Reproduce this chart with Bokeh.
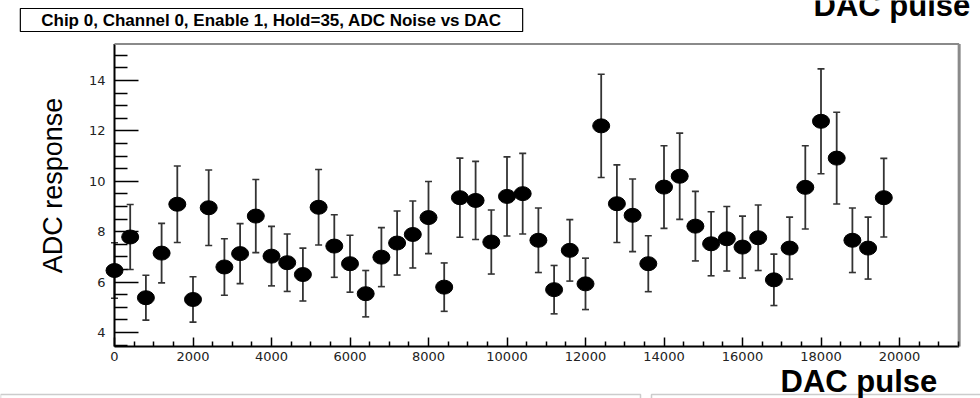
import math
from bokeh.plotting import figure
from bokeh.models import (ColumnDataSource, Whisker, TeeHead, Label, FixedTicker,
                          Range1d, BoxAnnotation)
from bokeh.embed import file_html
from bokeh.resources import INLINE

# ---- data ----
dac = [0, 400, 800, 1200, 1600, 2000, 2400, 2800, 3200, 3600,
       4000, 4400, 4800, 5200, 5600, 6000, 6400, 6800, 7200, 7600,
       8000, 8400, 8800, 9200, 9600, 10000, 10400, 10800, 11200, 11600,
       12000, 12400, 12800, 13200, 13600, 14000, 14400, 14800, 15200, 15600,
       16000, 16400, 16800, 17200, 17600, 18000, 18400, 18800, 19200, 19600]
adc = [6.46, 7.79, 5.38, 7.15, 9.09, 5.31, 8.95, 6.60, 7.13, 8.62,
       7.03, 6.77, 6.30, 8.97, 7.43, 6.73, 5.54, 6.99, 7.55, 7.89,
       8.56, 5.80, 9.35, 9.24, 7.59, 9.40, 9.51, 7.66, 5.70, 7.26,
       5.93, 12.20, 9.11, 8.65, 6.73, 9.77, 10.20, 8.22, 7.52, 7.72,
       7.39, 7.76, 6.09, 7.35, 9.76, 12.38, 10.92, 7.66, 7.35, 9.35]
err = [1.10, 1.29, 0.89, 1.18, 1.52, 0.90, 1.50, 1.12, 1.19, 1.45,
       1.18, 1.14, 1.05, 1.50, 1.24, 1.13, 0.92, 1.17, 1.27, 1.33,
       1.43, 0.96, 1.57, 1.55, 1.27, 1.57, 1.60, 1.28, 0.96, 1.22,
       1.02, 2.05, 1.54, 1.44, 1.11, 1.64, 1.71, 1.38, 1.27, 1.28,
       1.23, 1.30, 1.02, 1.23, 1.65, 2.08, 1.82, 1.28, 1.23, 1.56]

x_ticks = [0, 2000, 4000, 6000, 8000, 10000, 12000, 14000, 16000, 18000, 20000]
x_minor = [500, 1000, 1500, 2500, 3000, 3500, 4500, 5000, 5500, 6500, 7000, 7500,
           8500, 9000, 9500, 10500, 11000, 11500, 12500, 13000, 13500, 14500, 15000,
           15500, 16500, 17000, 17500, 18500, 19000, 19500, 20500, 21000, 21500]
y_ticks = [4, 6, 8, 10, 12, 14]
y_minor = [3.5, 4.5, 5, 5.5, 6.5, 7, 7.5, 8.5, 9, 9.5, 10.5, 11, 11.5,
           12.5, 13, 13.5, 14.5, 15]

title_text = "Chip 0, Channel 0, Enable 1, Hold=35, ADC Noise vs DAC"
y_label = "ADC response"
x_label = "DAC pulse"

# ---- axis frame extent (data units) ----
X_FRAME_END = 21520
Y_AXIS_BASE = 3.444
Y_FRAME_TOP = 15.45

# helpers mapping page pixels to data coordinates (annotation placement only)
def px2x(px):
    return (px - 114) / 0.03925

def px2y(py):
    return 4 + (332 - py) / 25.2

W, H = 980, 398

src = ColumnDataSource(dict(
    x=dac, y=adc,
    lo=[a - e for a, e in zip(adc, err)],
    hi=[a + e for a, e in zip(adc, err)],
))

p = figure(width=W, height=H, output_backend="svg", toolbar_location=None,
           x_range=Range1d(px2x(0), px2x(W)), y_range=Range1d(px2y(H), px2y(0)),
           title=None, min_border=0)
p.outline_line_color = None
p.xgrid.visible = False
p.ygrid.visible = False
p.background_fill_color = "white"
p.border_fill_color = "white"

# x axis, pinned at the bottom of the frame
xa = p.xaxis[0]
xa.fixed_location = Y_AXIS_BASE
xa.ticker = FixedTicker(ticks=x_ticks, minor_ticks=x_minor)
xa.axis_line_color = None
xa.major_tick_in = 9
xa.major_tick_out = 0
xa.minor_tick_in = 5
xa.minor_tick_out = 0
xa.major_tick_line_color = "black"
xa.minor_tick_line_color = "black"
xa.major_tick_line_width = 1.5
xa.minor_tick_line_width = 1.5
xa.major_label_text_font = "DejaVu Sans"
xa.major_label_text_font_size = "13px"
xa.major_label_text_color = "#222222"
xa.major_label_standoff = 5

# y axis, pinned at x = 0
ya = p.yaxis[0]
ya.fixed_location = 0
ya.ticker = FixedTicker(ticks=y_ticks, minor_ticks=y_minor)
ya.axis_line_color = None
ya.major_tick_in = 24
ya.major_tick_out = 0
ya.minor_tick_in = 13
ya.minor_tick_out = 0
ya.major_tick_line_color = "black"
ya.minor_tick_line_color = "black"
ya.major_tick_line_width = 1.5
ya.minor_tick_line_width = 1.5
ya.major_label_text_font = "DejaVu Sans"
ya.major_label_text_font_size = "13px"
ya.major_label_text_color = "#222222"
ya.major_label_standoff = 9

# frame lines: axis lines (black), top and right borders (gray)
p.segment(x0=[0], y0=[Y_AXIS_BASE], x1=[X_FRAME_END], y1=[Y_AXIS_BASE],
          line_color="black", line_width=2)
p.segment(x0=[0], y0=[Y_AXIS_BASE], x1=[0], y1=[Y_FRAME_TOP],
          line_color="black", line_width=2)
p.segment(x0=[0], y0=[Y_FRAME_TOP], x1=[X_FRAME_END], y1=[Y_FRAME_TOP],
          line_color="#8a8a8a", line_width=2)
p.segment(x0=[X_FRAME_END], y0=[Y_AXIS_BASE], x1=[X_FRAME_END], y1=[Y_FRAME_TOP],
          line_color="#8a8a8a", line_width=3)

# error bars
w = Whisker(source=src, base="x", upper="hi", lower="lo", dimension="height",
            line_color="#333333", line_width=1.8,
            upper_head=TeeHead(size=7, line_color="#333333", line_width=1.6),
            lower_head=TeeHead(size=7, line_color="#333333", line_width=1.6))
p.add_layout(w)

# markers
p.ellipse(x="x", y="y", width=17, height=14, width_units="screen", height_units="screen",
          fill_color="black", line_color="black", source=src)

# boxes of neighbouring panels at the bottom edge
p.add_layout(BoxAnnotation(left=px2x(0), right=px2x(640), top=px2y(394), bottom=px2y(402),
                           fill_color="white", fill_alpha=1, line_color="#555555",
                           line_width=1.5))
p.add_layout(BoxAnnotation(left=px2x(651), right=px2x(990), top=px2y(394), bottom=px2y(402),
                           fill_color="white", fill_alpha=1, line_color="#555555",
                           line_width=1.5))

# y axis title (rotated)
p.add_layout(Label(x=px2x(52), y=px2y(185), text=y_label, angle=math.pi / 2,
                   text_align="center", text_baseline="middle",
                   text_font="Liberation Sans", text_font_size="27px", text_color="black"))

# title box with a small shadow
nb = "\u00a0" * 4
title_full = nb + title_text + nb
p.add_layout(Label(x=px2x(271), y=px2y(19.5), x_offset=2, y_offset=-2, text=title_full,
                   text_align="center", text_baseline="middle",
                   text_font="Liberation Sans", text_font_style="bold", text_font_size="17px",
                   text_alpha=0, border_line_color="#333333", border_line_width=1.2,
                   background_fill_color="#333333", padding=2))
p.add_layout(Label(x=px2x(271), y=px2y(19.5), text=title_full,
                   text_align="center", text_baseline="middle",
                   text_font="Liberation Sans", text_font_style="bold", text_font_size="17px",
                   text_color="black", border_line_color="black", border_line_width=1.2,
                   background_fill_color="white", padding=2))

# "DAC pulse" labels
p.add_layout(Label(x=px2x(813), y=px2y(5), text=x_label, text_align="left",
                   text_baseline="alphabetic", text_font="Liberation Sans",
                   text_font_style="bold", text_font_size="31px", text_color="black"))
p.add_layout(Label(x=px2x(780), y=px2y(381), text=x_label, text_align="left",
                   text_baseline="alphabetic", text_font="Liberation Sans",
                   text_font_style="bold", text_font_size="31px", text_color="black"))

open("out.html", "w").write(file_html(p, INLINE))
